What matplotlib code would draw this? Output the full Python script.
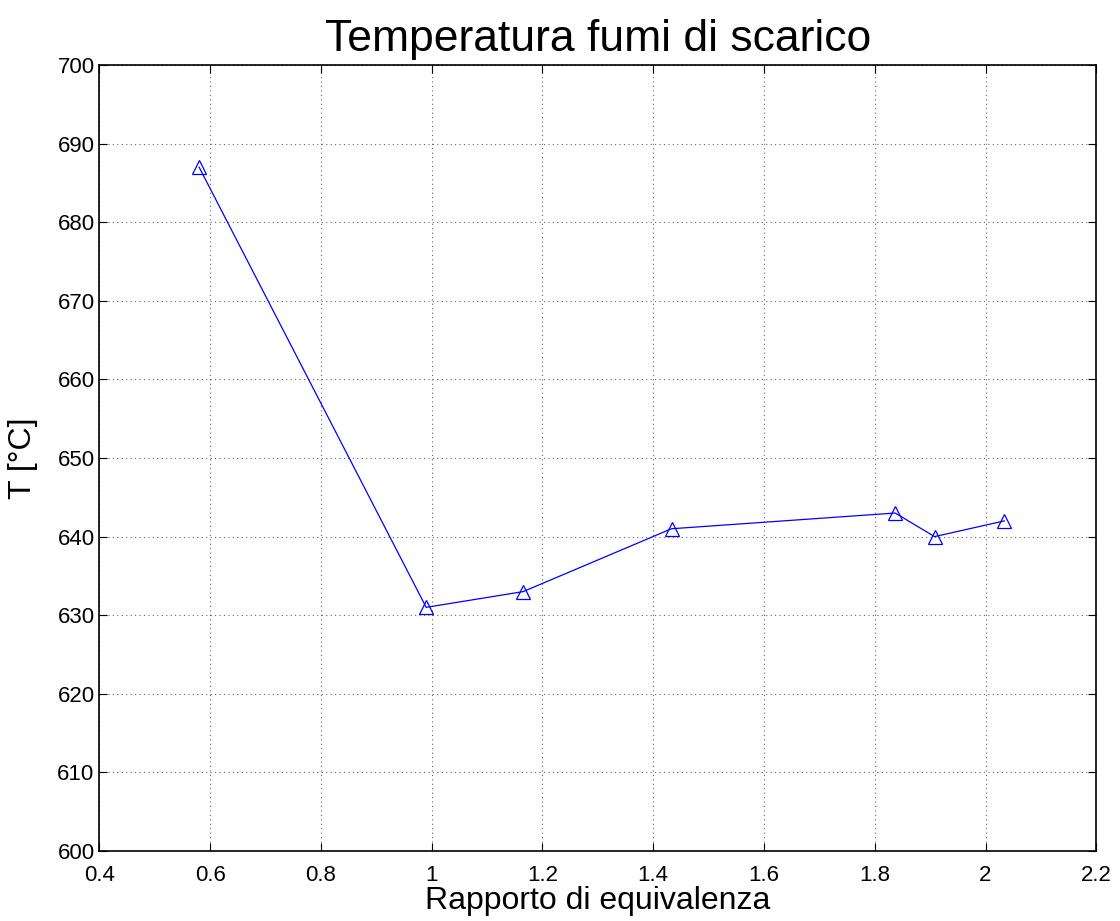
import numpy as np
import matplotlib.pyplot as plt

plt.rcParams['font.family'] = ['Liberation Sans', 'DejaVu Sans']

# dati
rapporto = [0.58, 0.99, 1.165, 1.433, 1.837, 1.908, 2.034]
temperatura = [687, 631, 633, 641, 643, 640, 642]

fig = plt.figure(figsize=(11.2, 9.21), dpi=100)
ax = fig.add_axes([0.0888, 0.076, 0.890, 0.8534])

ax.plot(rapporto, temperatura, color='blue', linewidth=0.9,
        marker='^', markersize=10, markerfacecolor='none',
        markeredgecolor='blue', markeredgewidth=0.9)

ax.set_xlim(0.4, 2.2)
ax.set_ylim(600, 700)
ax.set_xticks(np.arange(0.4, 2.21, 0.2))
ax.set_xticklabels(['0.4', '0.6', '0.8', '1', '1.2', '1.4', '1.6', '1.8', '2', '2.2'])
ax.set_yticks(np.arange(600, 701, 10))

ax.grid(True, linestyle=(0, (1, 3)), color='black', linewidth=0.8, alpha=0.6)
ax.tick_params(direction='in', labelsize=16, length=6, top=True, right=True)
ax.tick_params(axis='x', pad=10)
for s in ax.spines.values():
    s.set_linewidth(1.2)

ax.set_title('Temperatura fumi di scarico', fontsize=32, pad=10)
ax.set_xlabel('Rapporto di equivalenza', fontsize=23, labelpad=0)
ax.set_ylabel('T [°C]', fontsize=23, labelpad=14)

fig.savefig('out.png', dpi=100)
